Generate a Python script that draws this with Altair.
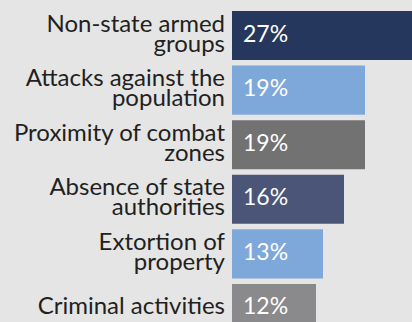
import altair as alt
import pandas as pd

categories = [
    "Non-state armed\ngroups",
    "Attacks against the\npopulation",
    "Proximity of combat\nzones",
    "Absence of state\nauthorities",
    "Extortion of\nproperty",
    "Criminal activities",
]
values = [27, 19, 19, 16, 13, 12]
colors = ["#26375d", "#7ea8da", "#727272", "#4a5577", "#7ea8da", "#8a898c"]

df = pd.DataFrame({"cat": categories, "val": values, "col": colors})
df["label"] = df["val"].astype(str) + "%"
df["zero"] = 0
df["multi"] = df["cat"].str.contains("\n")

FONT = "Lato"

y = alt.Y("cat:N", sort=categories, axis=None,
          scale=alt.Scale(range=[11, 333], paddingInner=0.1, paddingOuter=0))
xs = alt.Scale(domain=[0, 27], range=[232, 421], nice=False, zero=True)

base = alt.Chart(df)

bars = base.mark_bar(clip=True).encode(
    y=y,
    x=alt.X("zero:Q", scale=xs, axis=None),
    x2="val:Q",
    color=alt.Color("col:N", scale=None),
)

vals = base.mark_text(align="left", baseline="middle", dx=11, dy=-1, font=FONT,
                      fontSize=23, color="white", clip=True).encode(
    y=y,
    x=alt.X("zero:Q", scale=xs, axis=None),
    text="label:N",
)

label_style = dict(align="right", baseline="middle", font=FONT,
                   fontSize=24, lineHeight=20, lineBreak="\n", color="#231f20")

labels_multi = base.transform_filter("datum.multi").mark_text(
    dy=-11, **label_style).encode(
    y=y,
    x=alt.value(225),
    text="cat:N",
)

labels_single = base.transform_filter("!datum.multi").mark_text(
    dy=-1, **label_style).encode(
    y=y,
    x=alt.value(225),
    text="cat:N",
)

chart = alt.layer(bars, vals, labels_multi, labels_single).properties(
    width=412, height=322, padding=0,
    autosize=alt.AutoSizeParams(type="none"),
    background="#e5e5e5",
).configure_view(stroke=None, fill=None)

chart.save("out.html", embed_options={"renderer": "svg", "actions": False})
